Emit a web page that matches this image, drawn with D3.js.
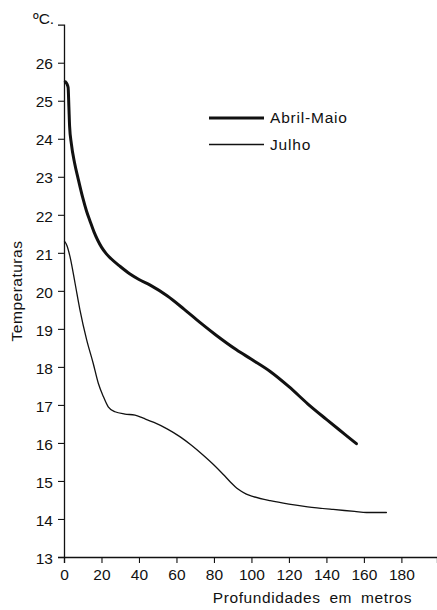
<!DOCTYPE html>
<html>
<head>
<meta charset="utf-8">
<script src="https://cdn.jsdelivr.net/npm/d3@7"></script>
<style>
  html, body { margin: 0; padding: 0; background: #fff; }
  svg text { font-family: "Liberation Sans", Arial, sans-serif; fill: #111; }
</style>
</head>
<body>
<svg id="chart" width="437" height="610"></svg>
<script>
// Temperature profiles by depth (m → °C)
const abrilMaioDepth = [0.7, 1.5, 2.2, 2.6, 3.0, 3.9, 5.7, 7.5, 10, 12, 14, 16, 18, 20, 22.5, 25, 30, 35, 40, 46, 55, 64, 72.5, 81, 92, 100, 110, 120, 130, 140, 150, 156];
const abrilMaioTemp  = [25.5, 25.45, 25.35, 24.85, 24.32, 23.88, 23.35, 22.96, 22.45, 22.1, 21.82, 21.55, 21.33, 21.15, 20.98, 20.85, 20.64, 20.45, 20.3, 20.15, 19.87, 19.52, 19.17, 18.84, 18.45, 18.2, 17.88, 17.48, 17.03, 16.62, 16.22, 15.98];

const julhoDepth = [0.3, 1.5, 3.2, 5.9, 8.5, 12.1, 15.6, 18.3, 21, 23.6, 27.2, 32.5, 37.9, 42.3, 48, 55, 62, 68, 74, 80, 85, 89, 93, 97, 101, 110, 120, 130, 143.6, 155, 161.4, 172];
const julhoTemp  = [21.3, 21.2, 20.9, 20.2, 19.5, 18.71, 18.09, 17.57, 17.22, 16.95, 16.82, 16.76, 16.73, 16.65, 16.54, 16.37, 16.16, 15.94, 15.69, 15.42, 15.17, 14.96, 14.78, 14.66, 14.59, 14.48, 14.39, 14.32, 14.25, 14.2, 14.17, 14.17];

const xTicks = [0, 20, 40, 60, 80, 100, 120, 140, 160, 180];
const yTicks = [13, 14, 15, 16, 17, 18, 19, 20, 21, 22, 23, 24, 25, 26];

const seriesNames = ["Abril-Maio", "Julho"];
const seriesWidths = [3, 1.3];

const svg = d3.select("#chart");

const x = d3.scaleLinear().domain([0, 199]).range([64, 437]);
const y = d3.scaleLinear().domain([13, 27]).range([557, 24.7]);

// Axes
const xAxis = svg.append("g")
  .attr("transform", `translate(0,${y(13)})`)
  .call(d3.axisBottom(x).tickValues(xTicks).tickSizeOuter(0).tickSize(6).tickPadding(6));
const yAxis = svg.append("g")
  .attr("transform", `translate(${x(0)},0)`)
  .call(d3.axisLeft(y).tickValues(yTicks).tickSizeOuter(0).tickSize(6).tickPadding(5));

[xAxis, yAxis].forEach(g => {
  g.select(".domain").attr("stroke", "#111").attr("stroke-width", 1.3);
  g.selectAll(".tick line").attr("stroke", "#111").attr("stroke-width", 1.1);
  g.selectAll(".tick text")
    .attr("font-size", 15.5)
    .attr("font-family", "Liberation Sans, Arial, sans-serif")
    .attr("fill", "#111");
});
yAxis.selectAll(".tick text").attr("dy", "0.4em");

// Curves
const line = d3.line()
  .x(d => x(d[0]))
  .y(d => y(d[1]))
  .curve(d3.curveMonotoneX);

const series = [
  d3.zip(abrilMaioDepth, abrilMaioTemp),
  d3.zip(julhoDepth, julhoTemp)
];

series.forEach((pts, i) => {
  svg.append("path")
    .datum(pts)
    .attr("fill", "none")
    .attr("stroke", "#111")
    .attr("stroke-width", seriesWidths[i])
    .attr("stroke-linecap", "round")
    .attr("stroke-linejoin", "round")
    .attr("d", line);
});

// Legend
const legend = svg.append("g").attr("transform", "translate(209,118)");
seriesNames.forEach((name, i) => {
  const row = legend.append("g").attr("transform", `translate(0,${i * 26.5})`);
  row.append("line")
    .attr("x1", 0).attr("x2", 55)
    .attr("y1", 0).attr("y2", 0)
    .attr("stroke", "#111")
    .attr("stroke-width", seriesWidths[i]);
  row.append("text")
    .attr("x", 61).attr("y", 5)
    .attr("font-size", 15.5)
    .attr("letter-spacing", 0.8)
    .text(name);
});

// Axis titles and unit
svg.append("text")
  .attr("x", 33).attr("y", 24)
  .attr("font-size", 15.5)
  .text("ºC.");

svg.append("text")
  .attr("transform", "translate(22,291) rotate(-90)")
  .attr("text-anchor", "middle")
  .attr("font-size", 15.5)
  .attr("letter-spacing", 0.5)
  .text("Temperaturas");

svg.append("text")
  .attr("x", 412).attr("y", 603)
  .attr("text-anchor", "end")
  .attr("font-size", 15.5)
  .attr("letter-spacing", 0.6)
  .attr("word-spacing", 4)
  .text("Profundidades em metros");
</script>
</body>
</html>
